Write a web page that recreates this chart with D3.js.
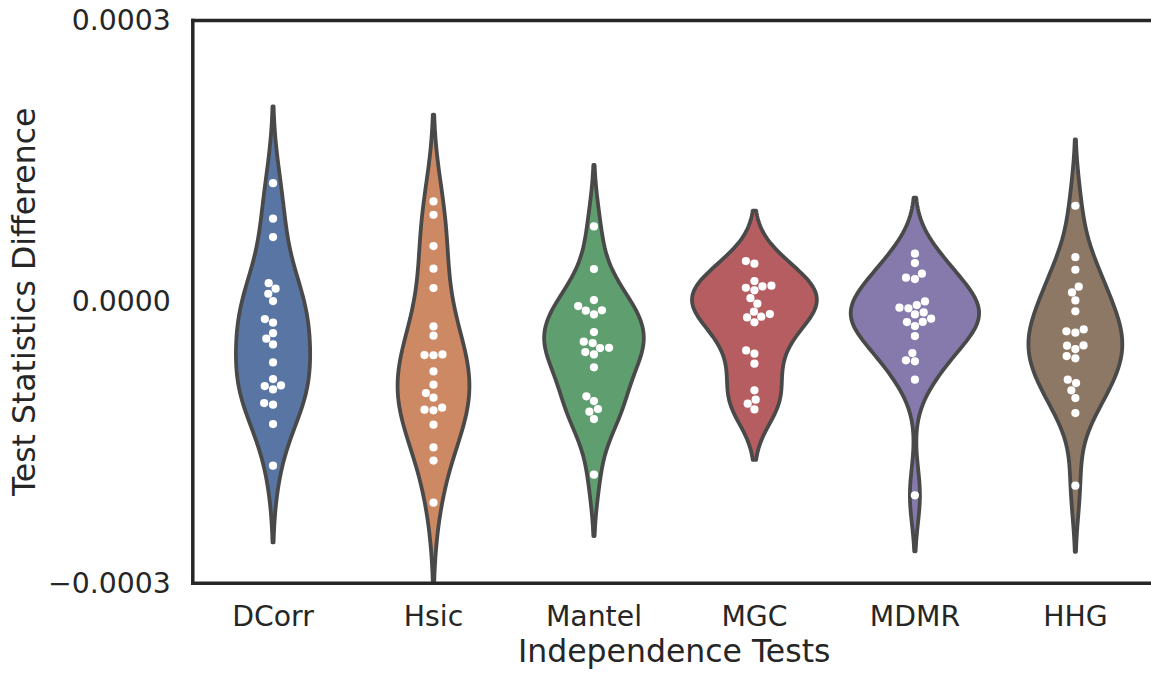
<!DOCTYPE html>
<html>
<head>
<meta charset="utf-8">
<script src="https://cdn.jsdelivr.net/npm/d3@7"></script>
<style>
  body { margin: 0; background: #fff; }
  text { font-family: "DejaVu Sans", sans-serif; fill: #262626; }
</style>
</head>
<body>
<div id="chart"></div>
<script>
// test statistic differences, in units of 1e-5
const categories = ["DCorr", "Hsic", "Mantel", "MGC", "MDMR", "HHG"];
const dcorr = [12.66, 8.87, 6.91, 2.00, 1.41, 0.87, 0.09, -1.83, -2.22, -3.33, -3.92, -4.53, -6.45, -8.23, -8.97, -8.90, -9.33, -10.79, -10.96, -13.02, -17.46];
const hsic = [10.71, 9.29, 5.95, 3.54, 1.47, -2.61, -3.60, -5.67, -5.69, -5.60, -7.41, -8.82, -9.72, -10.21, -11.49, -11.56, -11.28, -13.09, -15.51, -16.92, -21.40];
const mantel = [8.05, 3.50, 0.19, -0.45, -0.94, -1.33, -0.90, -3.22, -4.24, -4.39, -4.92, -4.90, -5.35, -5.60, -6.98, -10.07, -10.57, -11.42, -11.70, -12.49, -18.42];
const mgc = [4.35, 4.07, 2.22, 1.51, 1.23, 1.65, 1.73, 0.40, -0.19, -1.04, -1.65, -2.18, -1.58, -1.30, -5.17, -5.52, -6.59, -9.43, -10.42, -10.85, -11.46];
const mdmr = [5.14, 4.14, 2.58, 2.43, 3.01, -0.62, -0.69, -0.34, 0.05, -1.33, -1.12, -2.15, -2.58, -2.13, -1.79, -3.64, -5.46, -6.23, -6.34, -8.29, -20.62];
const hhg = [10.25, 4.77, 3.43, 1.62, 1.01, 0.16, -1.01, -3.14, -3.28, -2.93, -4.64, -5.03, -4.67, -5.78, -6.02, -8.29, -8.65, -9.43, -10.25, -11.85, -19.59];
const yTicks = [-30, 0, 30];
const palette = ["#4C72B0", "#DD8452", "#55A868", "#C44E52", "#8172B3", "#937860"];

const groups = [dcorr, hsic, mantel, mgc, mdmr, hhg];

const width = 1151, height = 673;
const margin = { top: 20.5, left: 192.8, right: -4.6, bottom: 89.7 };
const innerW = width - margin.left - margin.right;
const innerH = height - margin.top - margin.bottom;

const x = d3.scaleBand().domain(categories).range([0, innerW]).padding(0);
const y = d3.scaleLinear().domain([-30, 30]).range([innerH, 0]);

const svg = d3.select("#chart").append("svg")
  .attr("width", width).attr("height", height);

const chart = svg.append("g")
  .attr("transform", `translate(${margin.left},${margin.top})`);

chart.append("clipPath").attr("id", "clip")
  .append("rect").attr("width", innerW).attr("height", innerH);

// gaussian kde, scott bandwidth, cut = 2 (like seaborn)
function kde(values) {
  const n = values.length;
  const bw = d3.deviation(values) * Math.pow(n, -0.2);
  const lo = d3.min(values) - 2 * bw, hi = d3.max(values) + 2 * bw;
  return d3.range(100).map(i => {
    const g = lo + (hi - lo) * i / 99;
    const dens = d3.mean(values, v => Math.exp(-0.5 * ((g - v) / bw) ** 2)) / (bw * Math.sqrt(2 * Math.PI));
    return [g, dens];
  });
}

const curves = groups.map(kde);
const maxDens = d3.max(curves, c => d3.max(c, d => d[1]));
const halfW = d3.scaleLinear().domain([0, maxDens]).range([0, x.bandwidth() * 0.4]);

const desat = c => { const h = d3.hsl(c); h.s *= 0.75; return h.formatHex(); };

const plot = chart.append("g").attr("clip-path", "url(#clip)");

curves.forEach((curve, i) => {
  const cx = x(categories[i]) + x.bandwidth() / 2;
  const area = d3.area()
    .x0(d => cx - halfW(d[1]))
    .x1(d => cx + halfW(d[1]))
    .y(d => y(d[0]));
  plot.append("path")
    .attr("d", area(curve) + "Z")
    .attr("fill", desat(palette[i]))
    .attr("stroke", "#494949")
    .attr("stroke-width", 3.8)
    .attr("stroke-linejoin", "round");
});

// beeswarm placement, same idea as seaborn
function swarm(values, cx, r) {
  const pts = values.map(v => ({ v, y: y(v) })).sort((a, b) => a.v - b.v);
  const placed = [];
  pts.forEach(p => {
    const neighbors = placed.filter(q => Math.abs(q.y - p.y) < 2 * r);
    const cands = [0];
    let leftFirst = true;
    neighbors.forEach(q => {
      const dx = Math.sqrt(Math.max(4 * r * r - (p.y - q.y) ** 2, 0)) * 1.05;
      const pair = leftFirst ? [q.dx - dx, q.dx + dx] : [q.dx + dx, q.dx - dx];
      cands.push(...pair);
      leftFirst = !leftFirst;
    });
    const sorted = cands.map((c, k) => [c, k]).sort((a, b) => Math.abs(a[0]) - Math.abs(b[0]) || a[1] - b[1]);
    let chosen = sorted[0][0];
    for (const [c] of sorted) {
      if (neighbors.every(q => (q.dx - c) ** 2 + (q.y - p.y) ** 2 >= 4 * r * r - 1e-9)) { chosen = c; break; }
    }
    p.dx = chosen;
    placed.push(p);
  });
  return placed.map(p => ({ x: cx + p.dx, y: p.y }));
}

groups.forEach((vals, i) => {
  const cx = x(categories[i]) + x.bandwidth() / 2;
  plot.append("g").selectAll("circle")
    .data(swarm(vals, cx, 4.3))
    .join("circle")
    .attr("cx", d => d.x)
    .attr("cy", d => d.y)
    .attr("r", 4.1)
    .attr("fill", "#fff");
});

// axes
const yAxis = chart.append("g")
  .call(d3.axisLeft(y).tickValues(yTicks).tickSize(0).tickPadding(22)
    .tickFormat(d => d3.format(".4f")(d * 1e-5)));
yAxis.select(".domain").remove();
yAxis.selectAll("text").attr("font-size", 28.3).attr("font-family", "DejaVu Sans").attr("fill", "#262626");

const xAxis = chart.append("g")
  .attr("transform", `translate(0,${innerH})`)
  .call(d3.axisBottom(x).tickSize(0).tickPadding(23));
xAxis.select(".domain").remove();
xAxis.selectAll("text").attr("font-size", 28.3).attr("font-family", "DejaVu Sans").attr("fill", "#262626");

// spines: left, top, bottom
const spine = { stroke: "#262626", "stroke-width": 3.5, "stroke-linecap": "square" };
[[0, 0, 0, innerH], [0, 0, innerW, 0], [0, innerH, innerW, innerH]].forEach(([x1, y1, x2, y2]) => {
  const l = chart.append("line").attr("x1", x1).attr("y1", y1).attr("x2", x2).attr("y2", y2);
  Object.entries(spine).forEach(([k, v]) => l.attr(k, v));
});

svg.append("text")
  .attr("x", margin.left + innerW / 2)
  .attr("y", 661.5)
  .attr("text-anchor", "middle")
  .attr("font-size", 31.5)
  .text("Independence Tests");

svg.append("text")
  .attr("transform", `translate(34.5,${margin.top + innerH / 2}) rotate(-90)`)
  .attr("text-anchor", "middle")
  .attr("font-size", 31.5)
  .text("Test Statistics Difference");
</script>
</body>
</html>
